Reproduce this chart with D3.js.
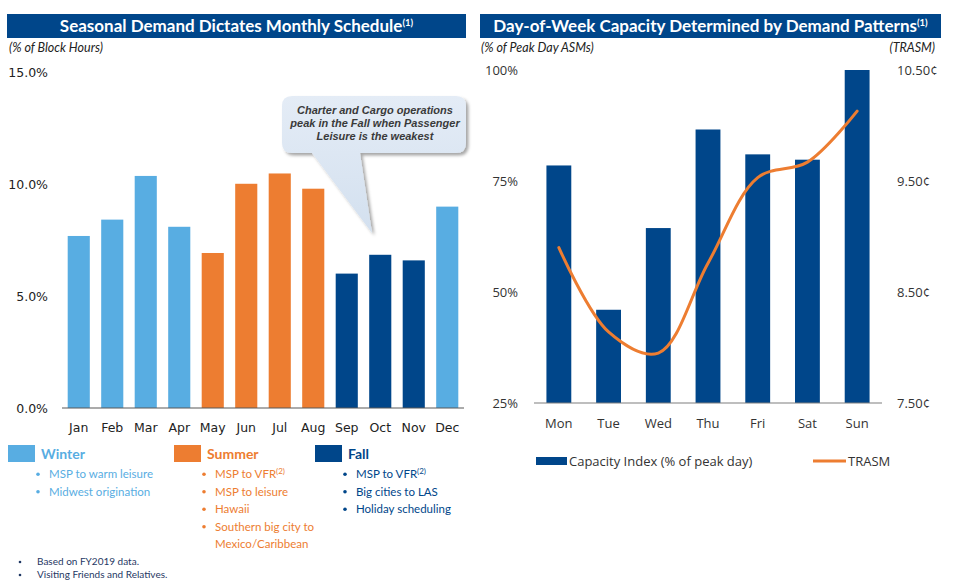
<!DOCTYPE html>
<html lang="en">
<head>
<meta charset="UTF-8">
<title>Seasonal Demand and Day-of-Week Capacity</title>
<script src="https://cdn.jsdelivr.net/npm/d3@7"></script>
<style>
    body { margin: 0; background: #fff; }
    svg { display: block; }
    .tick-lbl { font-family: "DejaVu Sans", Verdana, sans-serif; font-size: 12.5px; fill: #222; }
    .rtick { font-family: "Open Sans", sans-serif; font-size: 13px; fill: #333; }
    .title { font-family: Lato, sans-serif; font-weight: 700; font-size: 17px; fill: #fff; }
    .sub { font-family: Lato, sans-serif; font-style: italic; font-size: 12.5px; fill: #222; }
    .leg { font-family: Lato, sans-serif; font-size: 11.5px; }
    .note { font-family: Lato, sans-serif; font-size: 10px; fill: #1f3864; }
</style>
</head>
<body>
<svg id="chart" width="955" height="587"></svg>
<script>
// left chart: share of block hours by month
const months = ["Jan", "Feb", "Mar", "Apr", "May", "Jun", "Jul", "Aug", "Sep", "Oct", "Nov", "Dec"];
const blockHours = [7.68, 8.41, 10.36, 8.09, 6.92, 10.01, 10.47, 9.79, 6.0, 6.84, 6.59, 8.99];
const monthSeason = ["Winter", "Winter", "Winter", "Winter", "Summer", "Summer", "Summer", "Summer", "Fall", "Fall", "Fall", "Winter"];
const leftTicks = [0, 5, 10, 15];

// right chart: capacity index and TRASM by weekday
const days = ["Mon", "Tue", "Wed", "Thu", "Fri", "Sat", "Sun"];
const capacity = [78.5, 46, 64.4, 86.6, 81, 79.8, 100];
const trasm = [8.9, 8.14, 7.95, 8.76, 9.53, 9.67, 10.13];
const capTicks = [25, 50, 75, 100];
const trasmTicks = [7.5, 8.5, 9.5, 10.5];

const seasons = ["Winter", "Summer", "Fall"];
const seasonNotes = [
    ["MSP to warm leisure", "Midwest origination"],
    ["MSP to VFR|(2)", "MSP to leisure", "Hawaii", "Southern big city to", "Mexico/Caribbean"],
    ["MSP to VFR|(2)", "Big cities to LAS", "Holiday scheduling"]
];
const footnotes = ["Based on FY2019 data.", "Visiting Friends and Relatives."];

const navy = "#00468a", lightBlue = "#58ade2", orange = "#ed7d31";
const seasonColor = d3.scaleOrdinal().domain(seasons).range([lightBlue, orange, navy]);

const svg = d3.select("#chart");

// ---------- headers ----------
function header(x0, x1, text) {
    svg.append("rect").attr("x", x0).attr("y", 14).attr("width", x1 - x0).attr("height", 24).attr("fill", navy);
    const t = svg.append("text").attr("class", "title").attr("x", (x0 + x1) / 2).attr("y", 32)
        .attr("text-anchor", "middle");
    t.append("tspan").text(text);
    t.append("tspan").attr("dy", -6).attr("font-size", 9.5).text("(1)");
}
header(7, 466, "Seasonal Demand Dictates Monthly Schedule");
header(480, 941, "Day-of-Week Capacity Determined by Demand Patterns");

svg.append("text").attr("class", "sub").attr("x", 9).attr("y", 52).text("(% of Block Hours)");
svg.append("text").attr("class", "sub").attr("x", 481).attr("y", 52).text("(% of Peak Day ASMs)");
svg.append("text").attr("class", "sub").attr("x", 935).attr("y", 52).attr("text-anchor", "end").text("(TRASM)");

// ---------- left chart ----------
const xL = d3.scaleBand().domain(months).range([62, 464]).paddingInner(0.34).paddingOuter(0.17);
const yL = d3.scaleLinear().domain([0, 15]).range([408, 72]);

svg.append("g").selectAll("rect").data(months).join("rect")
    .attr("x", d => xL(d))
    .attr("width", xL.bandwidth())
    .attr("y", (d, i) => yL(blockHours[i]))
    .attr("height", (d, i) => yL(0) - yL(blockHours[i]))
    .attr("fill", (d, i) => seasonColor(monthSeason[i]));

svg.append("line").attr("x1", 62).attr("x2", 464).attr("y1", yL(0)).attr("y2", yL(0))
    .attr("stroke", "#595959").attr("stroke-width", 1.2);

svg.append("g").selectAll("text").data(leftTicks).join("text")
    .attr("class", "tick-lbl").attr("x", 48).attr("y", d => yL(d) + 4.5)
    .attr("text-anchor", "end").text(d => d.toFixed(1) + "%");

svg.append("g").selectAll("text").data(months).join("text")
    .attr("class", "tick-lbl").attr("x", d => xL(d) + xL.bandwidth() / 2).attr("y", 432)
    .attr("text-anchor", "middle").text(d => d);

// callout
const defs = svg.append("defs");
const grad = defs.append("linearGradient").attr("id", "cg").attr("x1", 0).attr("y1", 0).attr("x2", 0).attr("y2", 1);
grad.append("stop").attr("offset", "0%").attr("stop-color", "#e4ecf6");
grad.append("stop").attr("offset", "100%").attr("stop-color", "#d3e0ef");
const sh = defs.append("filter").attr("id", "shadow").attr("x", "-10%").attr("y", "-10%").attr("width", "130%").attr("height", "140%");
sh.append("feDropShadow").attr("dx", 2.5).attr("dy", 2.5).attr("stdDeviation", 1.8).attr("flood-color", "#000").attr("flood-opacity", 0.35);

const bx0 = 282, bx1 = 466, by0 = 96, by1 = 153, r = 10;
const tip = [372, 233];
const callout = d3.path();
callout.moveTo(bx0 + r, by0);
callout.lineTo(bx1 - r, by0);
callout.quadraticCurveTo(bx1, by0, bx1, by0 + r);
callout.lineTo(bx1, by1 - r);
callout.quadraticCurveTo(bx1, by1, bx1 - r, by1);
callout.lineTo(360, by1);
callout.lineTo(tip[0], tip[1]);
callout.lineTo(312, by1);
callout.lineTo(bx0 + r, by1);
callout.quadraticCurveTo(bx0, by1, bx0, by1 - r);
callout.lineTo(bx0, by0 + r);
callout.quadraticCurveTo(bx0, by0, bx0 + r, by0);
callout.closePath();
svg.append("path").attr("d", callout.toString()).attr("fill", "url(#cg)").attr("filter", "url(#shadow)");

const calloutLines = ["Charter and Cargo operations", "peak in the Fall when Passenger", "Leisure is the weakest"];
svg.append("g").selectAll("text").data(calloutLines).join("text")
    .attr("x", 375).attr("y", (d, i) => 114 + i * 13)
    .attr("text-anchor", "middle")
    .attr("font-family", "'Liberation Sans', Arial, sans-serif")
    .attr("font-size", 11).attr("font-weight", 700).attr("font-style", "italic")
    .attr("fill", "#3a3a3a").text(d => d);

// season legend
const legX = [8, 174, 315];
seasons.forEach((s, k) => {
    const c = seasonColor(s);
    const g = svg.append("g");
    g.append("rect").attr("x", legX[k]).attr("y", 445).attr("width", 27).attr("height", 17).attr("fill", c);
    g.append("text").attr("x", legX[k] + 33).attr("y", 459).attr("fill", c)
        .attr("font-family", "Lato, sans-serif").attr("font-weight", 700).attr("font-size", 14).text(s);
    seasonNotes[k].forEach((n, j) => {
        const cont = (s === "Summer" && j === 4);
        const y = 478 + j * 17.5;
        if (!cont) {
            g.append("circle").attr("cx", legX[k] + 30).attr("cy", y - 3.7).attr("r", 1.8).attr("fill", c);
        }
        const parts = n.split("|");
        const t = g.append("text").attr("class", "leg").attr("x", legX[k] + 41).attr("y", y).attr("fill", c);
        t.append("tspan").text(parts[0]);
        if (parts[1]) t.append("tspan").attr("dy", -4).attr("font-size", 8).text(parts[1]);
    });
});

svg.append("g").selectAll("g").data(footnotes).join("g").each(function (d, i) {
    const g = d3.select(this);
    const y = 565 + i * 13;
    g.append("circle").attr("cx", 20).attr("cy", y - 3).attr("r", 1.3).attr("fill", "#1f3864");
    g.append("text").attr("class", "note").attr("x", 37).attr("y", y).text(d);
});

// ---------- right chart ----------
const xR = d3.scaleBand().domain(days).range([534, 882]).paddingInner(0.5).paddingOuter(0.25);
const yR = d3.scaleLinear().domain([25, 100]).range([403, 70]);
const yT = d3.scaleLinear().domain([7.5, 10.5]).range([403, 70]);

svg.append("g").selectAll("rect").data(days).join("rect")
    .attr("x", d => xR(d))
    .attr("width", xR.bandwidth())
    .attr("y", (d, i) => yR(capacity[i]))
    .attr("height", (d, i) => yR(25) - yR(capacity[i]))
    .attr("fill", navy);

svg.append("line").attr("x1", 534).attr("x2", 882).attr("y1", yR(25)).attr("y2", yR(25))
    .attr("stroke", "#7f7f7f").attr("stroke-width", 1.2);

const line = d3.line()
    .x((d, i) => xR(days[i]) + xR.bandwidth() / 2)
    .y(d => yT(d))
    .curve(d3.curveCatmullRom.alpha(0.5));
svg.append("path").datum(trasm).attr("d", line)
    .attr("fill", "none").attr("stroke", orange).attr("stroke-width", 3).attr("stroke-linecap", "round");

svg.append("g").selectAll("text").data(capTicks).join("text")
    .attr("class", "rtick").attr("x", 518).attr("y", d => yR(d) + 4.5)
    .attr("text-anchor", "end").text(d => d + "%");

svg.append("g").selectAll("text").data(trasmTicks).join("text")
    .attr("class", "rtick").attr("x", 897).attr("y", d => yT(d) + 4.5)
    .text(d => d.toFixed(2) + "\u00a2");

svg.append("g").selectAll("text").data(days).join("text")
    .attr("class", "rtick").attr("x", d => xR(d) + xR.bandwidth() / 2).attr("y", 428)
    .attr("text-anchor", "middle").text(d => d);

// right legend
svg.append("rect").attr("x", 536).attr("y", 457).attr("width", 31).attr("height", 8).attr("fill", navy);
svg.append("text").attr("class", "rtick").attr("x", 569).attr("y", 466).text("Capacity Index (% of peak day)");
svg.append("line").attr("x1", 813).attr("x2", 846).attr("y1", 461).attr("y2", 461)
    .attr("stroke", orange).attr("stroke-width", 3);
svg.append("text").attr("class", "rtick").attr("x", 848).attr("y", 466).text("TRASM");
</script>
</body>
</html>
